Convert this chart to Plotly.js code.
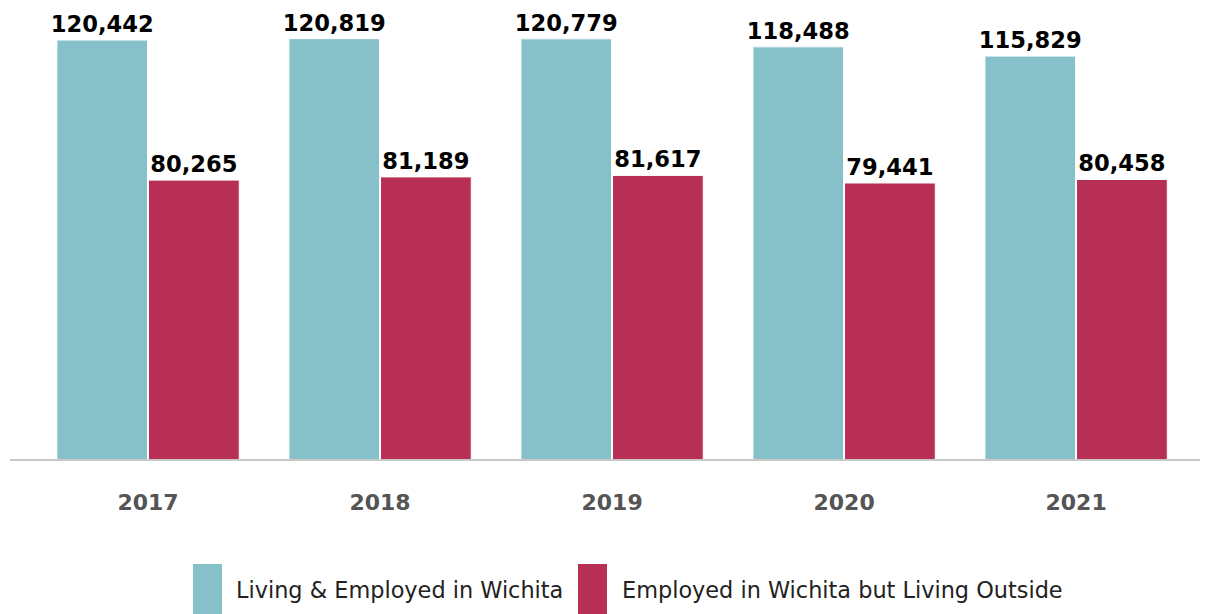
<!DOCTYPE html>
<html>
<head>
<meta charset="utf-8">
<script src="https://cdn.plot.ly/plotly-3.0.1.min.js"></script>
<style>html,body{margin:0;padding:0;background:#fff;}#chart{width:1212px;height:614px;}</style>
</head>
<body>
<div id="chart"></div>
<script>
const years = ['2017', '2018', '2019', '2020', '2021'];
const livingEmployed = [120442, 120819, 120779, 118488, 115829];
const employedOutside = [80265, 81189, 81617, 79441, 80458];
const seriesNames = ['Living &amp; Employed in Wichita', 'Employed in Wichita but Living Outside'];
const seriesColors = ['#86C1C9', '#B72F55'];

const FAM = '"DejaVu Sans", "DejaVu Sans Book", Verdana, sans-serif';
const fmt = v => v.toLocaleString('en-US');
const labelFont = {family: FAM, size: 22.6, color: '#000', weight: 'bold'};

const traces = [livingEmployed, employedOutside].map((vals, i) => ({
  type: 'bar',
  x: years,
  y: vals,
  name: seriesNames[i],
  marker: {color: seriesColors[i], line: {color: '#ffffff', width: 1}},
  text: vals.map(fmt),
  textposition: 'outside',
  constraintext: 'none',
  textfont: labelFont,
  cliponaxis: false,
  hoverinfo: 'x+y'
}));

const L = 10, R = 12, T = 10, B = 154, W = 1212, H = 614;
const pw = W - L - R, ph = H - T - B;
const px = X => (X - L) / pw;
const py = Y => (H - B - Y) / ph;

const legendX = [[193, 222, 234], [578, 607, 620]];
const shapes = [{
  type: 'line', xref: 'paper', yref: 'paper', x0: 0, x1: 1, y0: 0, y1: 0,
  line: {color: '#C8C8C8', width: 2}
}];
const annotations = [];
seriesNames.forEach((n, i) => {
  shapes.push({
    type: 'rect', xref: 'paper', yref: 'paper',
    x0: px(legendX[i][0]), x1: px(legendX[i][1]), y0: py(620), y1: py(564),
    fillcolor: seriesColors[i], line: {width: 0}
  });
  annotations.push({
    xref: 'paper', yref: 'paper', x: px(legendX[i][2]), y: py(590),
    xanchor: 'left', yanchor: 'middle', showarrow: false, text: n,
    font: {family: FAM, size: 22.4, color: '#222'}
  });
});

const layout = {
  width: W, height: H,
  margin: {l: L, r: R, t: T, b: B, pad: 0},
  paper_bgcolor: '#fff', plot_bgcolor: '#fff',
  font: {family: FAM},
  barmode: 'group', bargap: 0.21, bargroupgap: 0.01,
  showlegend: false,
  xaxis: {
    type: 'category', range: [-0.595, 4.534],
    showline: false, showgrid: false, zeroline: false, ticks: '',
    ticklabelstandoff: 27,
    tickfont: {family: FAM, size: 22, color: '#555', weight: 'bold'}
  },
  yaxis: {
    range: [0, 129050], visible: false, showgrid: false, zeroline: false
  },
  shapes: shapes,
  annotations: annotations
};

Plotly.newPlot('chart', traces, layout, {displayModeBar: false, staticPlot: true});
</script>
</body>
</html>
